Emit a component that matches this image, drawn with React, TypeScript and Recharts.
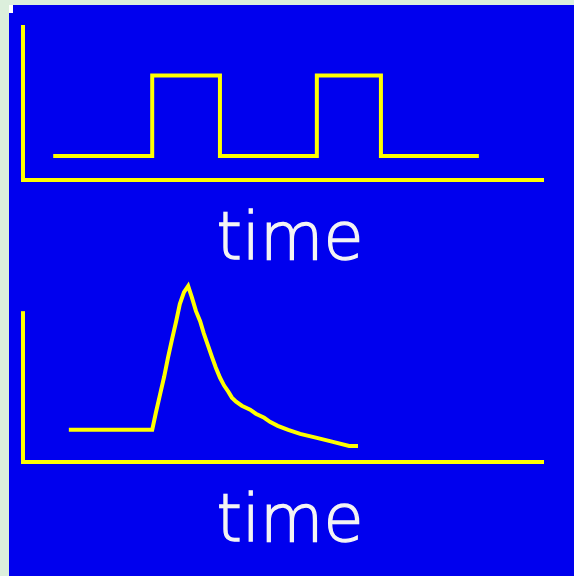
import React from 'react'
import { LineChart, Line, XAxis, YAxis, ReferenceLine } from 'recharts'

// time axis runs 0..100 in both panels
const squareTime = [5.8, 24.8, 37.8, 56.4, 68.7, 87.5]
const squareLevel = [1.55, 6.74, 1.55, 6.74, 1.55, 1.55]

const pulseTime = [
  8.8, 24.8, 25.5, 26.3, 27.1, 27.8, 28.6, 29.4, 30.1, 30.9, 31.7,
  32.4, 33.2, 34.0, 34.7, 35.5, 36.3, 37.0, 37.8, 38.6, 39.4, 40.1,
  40.9, 42.0, 43.6, 44.7, 46.3, 47.4, 48.9, 50.9, 53.2, 56.4, 59.5,
  62.6, 64.3,
]
const pulseLevel = [
  3.2, 3.2, 4.9, 6.7, 8.5, 10.3, 12.2, 14.0, 15.7, 16.9, 17.5,
  16.4, 15.0, 14.0, 12.8, 11.6, 10.4, 9.4, 8.4, 7.6, 7.0, 6.4,
  6.0, 5.6, 5.2, 4.8, 4.4, 4.0, 3.6, 3.2, 2.8, 2.4, 2.0,
  1.6, 1.6,
]

const YELLOW = '#ffff00'
const BLUE = '#0000ee'

const squareData = squareTime.map((t, i) => ({ t, v: squareLevel[i] }))
const pulseData = pulseTime.map((t, i) => ({ t, v: pulseLevel[i] }))

function TimeLabel({ top }: { top: number }) {
  return (
    <svg width={574} height={80} style={{ position: 'absolute', left: 0, top }}>
      <text
        x={290}
        y={59}
        textAnchor="middle"
        fill="#f4f4f4"
        stroke="#f4f4f4"
        strokeWidth={1.3}
        fontFamily="DejaVu Sans"
        fontWeight={200}
        fontSize={65}
      >
        time
      </text>
    </svg>
  )
}

export default function App() {
  return (
    <div style={{ position: 'absolute', left: 0, top: 0, width: 574, height: 576, background: '#dcefdc' }}>
      <div style={{ position: 'absolute', left: 9, top: 5, width: 565, height: 571, background: BLUE }} />
      <div style={{ position: 'absolute', left: 9, top: 5, width: 4, height: 8, background: '#ffffff' }} />

      {/* square wave */}
      <div style={{ position: 'absolute', left: 0, top: 0 }}>
        <LineChart width={574} height={200} data={squareData} margin={{ top: 25, right: 30, left: 23, bottom: 18 }}>
          <XAxis
            dataKey="t"
            type="number"
            domain={[0, 100]}
            tick={false}
            tickLine={false}
            height={2}
            axisLine={{ stroke: YELLOW, strokeWidth: 4 }}
          />
          <YAxis type="number" domain={[0, 10]} hide width={0} />
          <ReferenceLine
            segment={[{ x: 0, y: -0.13 }, { x: 0, y: 10 }]}
            stroke={YELLOW}
            strokeWidth={4}
            ifOverflow="visible"
          />
          <Line
            type="stepAfter"
            dataKey="v"
            stroke={YELLOW}
            strokeWidth={4}
            dot={false}
            isAnimationActive={false}
          />
        </LineChart>
      </div>
      <TimeLabel top={200} />

      {/* pulse */}
      <div style={{ position: 'absolute', left: 0, top: 260 }}>
        <LineChart width={574} height={220} data={pulseData} margin={{ top: 21, right: 30, left: 23, bottom: 16 }}>
          <XAxis
            dataKey="t"
            type="number"
            domain={[0, 100]}
            tick={false}
            tickLine={false}
            height={2}
            axisLine={{ stroke: YELLOW, strokeWidth: 4 }}
          />
          <YAxis type="number" domain={[0, 18]} hide width={0} />
          <ReferenceLine
            segment={[{ x: 0, y: -0.2 }, { x: 0, y: 15 }]}
            stroke={YELLOW}
            strokeWidth={4}
            ifOverflow="visible"
          />
          <Line
            type="linear"
            dataKey="v"
            stroke={YELLOW}
            strokeWidth={4}
            dot={false}
            isAnimationActive={false}
          />
        </LineChart>
      </div>
      <TimeLabel top={482} />
    </div>
  )
}
